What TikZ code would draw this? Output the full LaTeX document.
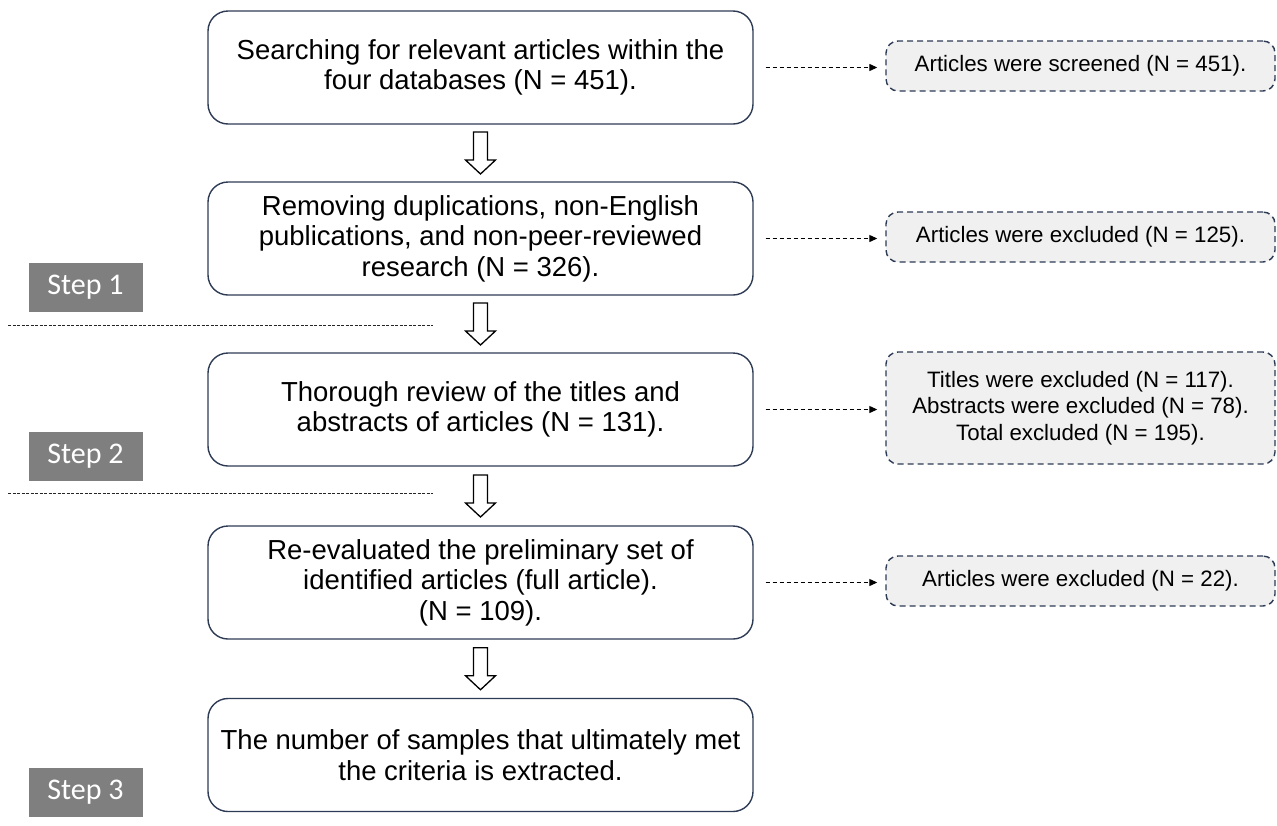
\documentclass[tikz,border=0pt]{standalone}
\usepackage{fontspec}
\setmainfont{Liberation Sans}
\newfontfamily\stepfont{Carlito}
\usetikzlibrary{arrows.meta,calc}
\definecolor{navy}{HTML}{2E3B55}
\definecolor{stepgray}{HTML}{7F7F7F}
\definecolor{boxfill}{HTML}{F0F0F0}
\tikzset{
  mainbox/.style={draw=navy, line width=1.4pt, rounded corners=20pt, minimum width=545pt, minimum height=113pt, align=center, font=\fontsize{27.5}{30.5}\selectfont, text=black, inner sep=0pt},
  sidebox/.style={draw=navy, line width=1.4pt, dash pattern=on 6pt off 4pt, fill=boxfill, rounded corners=12pt, minimum width=389pt, align=center, font=\fontsize{22.3}{26.5}\selectfont, text=black, inner sep=0pt},
  steplabel/.style={fill=stepgray, text=white, minimum width=114pt, minimum height=49pt, font=\stepfont\fontsize{30}{32}\selectfont, inner sep=0pt},
  sidearrow/.style={draw=black, line width=1.2pt, dash pattern=on 4pt off 3pt, -{Triangle[length=8pt,width=7pt]}, shorten <=12pt, shorten >=8pt},
  hollow/.style={draw=black, line width=1.3pt, fill=white, line join=miter},
  sepline/.style={draw=black!85, line width=1pt, dash pattern=on 3pt off 1.5pt}
}
\newcommand{\hollowarrow}[2]{%
  \coordinate (m) at ($(#1.south)!0.5!(#2.north)$);
  \draw[hollow] ($(m)+(-7,-21)$) -- ++(14,0) -- ++(0,28) -- ++(8,0) -- ++(-15,14) -- ++(-15,-14) -- ++(8,0) -- cycle;}
\begin{document}
\begin{tikzpicture}[x=1pt,y=-1pt]
\useasboundingbox (0,0) rectangle (1277,825);
% main boxes
\node[mainbox] (b1) at (480.5,67.5) {Searching for relevant articles within the\\four databases (N = 451).};
\node[mainbox] (b2) at (480.5,238.5) {Removing duplications, non-English\\publications, and non-peer-reviewed\\research (N = 326).};
\node[mainbox] (b3) at (480.5,409.5) {Thorough review of the titles and\\abstracts of articles (N = 131).};
\node[mainbox] (b4) at (480.5,582.5) {Re-evaluated the preliminary set of\\identified articles (full article).\\(N = 109).};
\node[mainbox] (b5) at (480.5,755) {The number of samples that ultimately met\\the criteria is extracted.};
% side boxes
\node[sidebox, minimum height=50pt] (r1) at (1080.5,66) {Articles were screened (N = 451).};
\node[sidebox, minimum height=50pt] (r2) at (1080.5,237) {Articles were excluded (N = 125).};
\node[sidebox, minimum height=112pt] (r3) at (1080.5,408) {Titles were excluded (N = 117).\\Abstracts were excluded (N = 78).\\Total excluded (N = 195).};
\node[sidebox, minimum height=50pt] (r4) at (1080.5,581) {Articles were excluded (N = 22).};
% step labels
\node[steplabel] (s1) at (85.5,287.5) {Step 1};
\node[steplabel] (s2) at (85.5,456.5) {Step 2};
\node[steplabel] (s3) at (85.5,792.5) {Step 3};
% separators
\coordinate (l1a) at (8,325); \coordinate (l1b) at (433,325);
\coordinate (l2a) at (8,493); \coordinate (l2b) at (433,493);
\draw[sepline] (l1a) -- (l1b);
\draw[sepline] (l2a) -- (l2b);
% dashed arrows
\foreach \i in {1,2,3,4} {\draw[sidearrow] (b\i.east) -- (b\i.east -| r\i.west);}
% hollow arrows
\hollowarrow{b1}{b2}
\hollowarrow{b2}{b3}
\hollowarrow{b3}{b4}
\hollowarrow{b4}{b5}
\end{tikzpicture}
\end{document}
